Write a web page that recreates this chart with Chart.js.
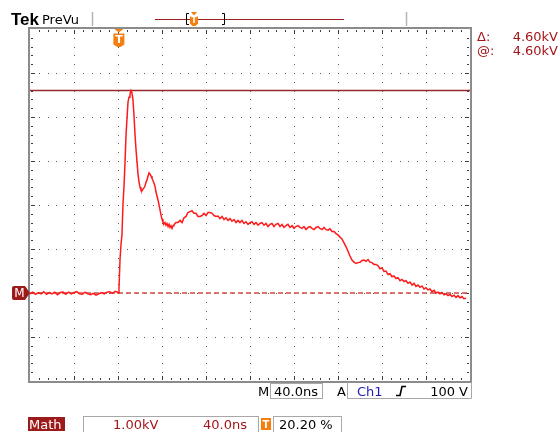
<!DOCTYPE html>
<html>
<head>
<meta charset="utf-8">
<script src="https://cdn.jsdelivr.net/npm/chart.js@4/dist/chart.umd.min.js"></script>
<style>
  html, body { margin: 0; padding: 0; background: #fff; }
  canvas { display: block; }
</style>
</head>
<body>
<canvas id="scope" width="560" height="432"></canvas>
<script>
// Acquired math waveform: time from left edge of screen (ns) and amplitude (kV)
const timeNs = [
  0, 2.5, 5, 7.5, 10, 12.5, 15, 17.5, 20, 22.5, 25, 27.5, 30, 32.5, 35, 37.5, 40, 42.5, 45, 47.5,
  50, 52.5, 55, 57.5, 60, 62.5, 65, 67.5, 70, 72.5, 75, 77.5, 79.5,
  80.0, 80.9, 81.8, 82.7, 83.6, 84.5, 85.5, 86.4, 87.3, 88.2, 89.1, 90.0, 90.9, 91.8, 92.7, 93.6,
  94.5, 95.5, 96.4, 97.3, 98.2, 99.1, 100.0, 100.9, 101.8, 102.7, 103.6, 104.5, 105.5, 106.4,
  107.3, 108.2, 109.1, 110.0, 110.9, 111.8, 112.7, 113.6, 114.5, 115.5, 116.4, 117.3, 118.2,
  119.1, 120.0, 120.9, 121.8, 122.7, 123.6, 124.5, 125.5, 126.4, 127.3, 128.2, 129.1, 130.0,
  130.9, 132.7, 134.5, 136.4, 138.2, 140.0, 141.8, 143.6, 145.5, 147.3, 149.1, 150.9, 152.7,
  154.5, 156.4, 158.2, 160.0, 161.8, 163.6, 165.5, 167.3, 169.1, 170.9, 172.7, 174.5, 176.4,
  178.2, 180.0, 181.8, 183.6, 185.5, 187.3, 189.1, 190.9, 192.7, 194.5, 196.4, 198.2, 200.0,
  201.8, 203.6, 205.5, 207.3, 209.1, 210.9, 212.7, 214.5, 216.4, 218.2, 220.0, 221.8, 223.6,
  225.5, 227.3, 229.1, 230.9, 232.7, 234.5, 236.4, 238.2, 240.0, 241.8, 243.6, 245.5, 247.3,
  249.1, 250.9, 252.7, 254.5, 256.4, 258.2, 260.0, 261.8, 263.6, 265.5, 267.3, 269.1, 270.9,
  272.7, 274.5, 276.4, 278.2, 280.0, 281.8, 283.6, 285.5, 287.3, 289.1, 290.9, 292.7, 294.5,
  296.4, 298.2, 300.0, 301.8, 303.6, 305.5, 307.3, 309.1, 310.9, 312.7, 314.5, 316.4, 318.2,
  320.0, 321.8, 323.6, 325.5, 327.3, 329.1, 330.9, 332.7, 334.5, 336.4, 338.2, 340.0, 341.8,
  343.6, 345.5, 347.3, 349.1, 350.9, 352.7, 354.5, 356.4, 358.2, 360.0, 361.8, 363.6, 365.5,
  367.3, 369.1, 370.9, 372.7, 374.5, 376.4, 378.2, 380.0, 381.8, 383.6, 385.5, 387.3, 389.1,
  390.9, 392.7, 394.5, 396.4
];
const voltKV = [
  -0.02, 0.02, -0.03, 0.01, -0.02, 0.03, -0.03, 0.01, -0.02, 0.02, -0.04, 0.01, 0.02, -0.03, 0.02, -0.02, 0.01, 0.03, -0.02, -0.03,
  0.02, -0.02, -0.04, -0.01, -0.05, -0.02, 0.01, -0.02, 0.02, 0.03, -0.01, 0.04, 0.02,
  0.00, 0.09, 0.75, 1.09, 1.32, 2.00, 2.45, 2.98, 3.59, 3.98, 4.34, 4.45, 4.52, 4.60, 4.55, 4.39,
  4.05, 3.59, 3.25, 2.98, 2.70, 2.52, 2.41, 2.34, 2.32, 2.36, 2.39, 2.43, 2.52, 2.57,
  2.66, 2.73, 2.70, 2.66, 2.61, 2.55, 2.50, 2.43, 2.30, 2.20, 2.11, 2.00, 1.89,
  1.77, 1.68, 1.61, 1.57, 1.60, 1.54, 1.58, 1.51, 1.56, 1.49, 1.53, 1.47, 1.53,
  1.55, 1.60, 1.60, 1.65, 1.60, 1.71, 1.74, 1.83, 1.85, 1.87, 1.81, 1.81, 1.74,
  1.74, 1.76, 1.81, 1.76, 1.83, 1.83, 1.81, 1.76, 1.74, 1.75, 1.69, 1.74, 1.67,
  1.71, 1.65, 1.69, 1.63, 1.67, 1.60, 1.65, 1.60, 1.65, 1.58, 1.62, 1.56, 1.60,
  1.62, 1.56, 1.60, 1.54, 1.58, 1.60, 1.54, 1.58, 1.51, 1.56, 1.58, 1.51, 1.56,
  1.58, 1.51, 1.56, 1.49, 1.53, 1.56, 1.49, 1.53, 1.47, 1.51, 1.53, 1.49, 1.47,
  1.51, 1.44, 1.49, 1.51, 1.47, 1.44, 1.49, 1.51, 1.47, 1.44, 1.49, 1.44, 1.43,
  1.46, 1.40, 1.40, 1.35, 1.32, 1.27, 1.23, 1.14, 1.05, 0.95, 0.84, 0.75, 0.70,
  0.67, 0.69, 0.70, 0.74, 0.75, 0.72, 0.76, 0.70, 0.69, 0.65, 0.65, 0.62, 0.55,
  0.57, 0.49, 0.50, 0.42, 0.44, 0.37, 0.39, 0.33, 0.35, 0.28, 0.31, 0.26, 0.28,
  0.22, 0.25, 0.18, 0.22, 0.15, 0.18, 0.13, 0.16, 0.09, 0.12, 0.07, 0.09, 0.03,
  0.06, 0.00, 0.02, -0.02, 0.01, -0.04, -0.02, -0.06, -0.03, -0.08, -0.05, -0.10, -0.06,
  -0.11, -0.08, -0.13, -0.12
];

// Screen settings
const timeSpanNs = 400;          // 10 divisions x 40 ns
const voltRangeKV = [-2, 6];     // 8 divisions x 1 kV, ground two divisions above bottom
const groundKV = 0;
const cursorKV = 4.60;           // horizontal bar cursor
const triggerPct = 20.20;        // trigger position on the record, percent

// Readout texts
const cursorDelta = cursorKV.toFixed(2) + 'kV';
const cursorAt = cursorKV.toFixed(2) + 'kV';
const mathVScale = '1.00kV';
const mathHScale = '40.0ns';
const mainTimebase = '40.0ns';
const trigSource = 'Ch1';
const trigLevel = '100 V';

const DARK_RED = '#a3161a';
const ORANGE = '#f57e0f';
const FONT = '"DejaVu Sans", sans-serif';

function triggerTag(ctx, cx, top, w, h, fs) {
  // orange trigger marker: small notch on top, box with a point below
  const l = cx - w / 2, r = cx + w / 2;
  ctx.fillStyle = ORANGE;
  ctx.beginPath();
  ctx.moveTo(l + 1, top); ctx.lineTo(r - 1, top); ctx.lineTo(cx, top + 3.5); ctx.closePath();
  ctx.fill();
  ctx.beginPath();
  ctx.moveTo(l, top + 4.5); ctx.lineTo(r, top + 4.5); ctx.lineTo(r, top + h - 2.5);
  ctx.lineTo(cx + 1.5, top + h); ctx.lineTo(cx - 1.5, top + h); ctx.lineTo(l, top + h - 2.5);
  ctx.closePath(); ctx.fill();
  ctx.fillStyle = '#fff';
  ctx.font = 'bold ' + fs + 'px ' + FONT;
  ctx.textAlign = 'center'; ctx.textBaseline = 'middle';
  ctx.fillText('T', cx, top + 4.5 + (h - 4.5) / 2);
}

const scopeScreen = {
  id: 'scopeScreen',
  beforeDraw(chart) {
    const ctx = chart.ctx;
    ctx.save();
    ctx.fillStyle = '#fff';
    ctx.fillRect(0, 0, chart.width, chart.height);
    ctx.restore();
  },
  beforeDatasetsDraw(chart) {
    const ctx = chart.ctx;
    const xs = chart.scales.x, ys = chart.scales.y;
    const a = chart.chartArea;
    ctx.save();
    // dotted graticule: a dot at every minor step along each major line
    ctx.fillStyle = '#5c5c5c';
    for (let i = 1; i < 10; i++) {
      const px = Math.round(xs.getPixelForValue(i * 40));
      for (let j = 1; j < 40; j++) {
        const py = Math.round(ys.getPixelForValue(voltRangeKV[0] + j * 0.2));
        ctx.fillRect(px, py, 1, 1);
      }
    }
    for (let k = 1; k < 8; k++) {
      const py = Math.round(ys.getPixelForValue(voltRangeKV[0] + k));
      for (let j = 1; j < 50; j++) {
        const px = Math.round(xs.getPixelForValue(j * 8));
        ctx.fillRect(px, py, 1, 1);
      }
    }
    // frame
    ctx.strokeStyle = '#8c8c8c';
    ctx.lineWidth = 2;
    ctx.strokeRect(a.left - 1, a.top - 1, a.right - a.left + 2, a.bottom - a.top + 2);
    // ticks along the frame
    ctx.fillStyle = '#3c3c3c';
    for (let j = 1; j < 50; j++) {
      const px = Math.round(xs.getPixelForValue(j * 8));
      const len = j % 5 === 0 ? 4 : 2;
      ctx.fillRect(px, a.top + 1, 1, len);
      ctx.fillRect(px, a.bottom - 1 - len, 1, len);
    }
    for (let j = 1; j < 40; j++) {
      const py = Math.round(ys.getPixelForValue(voltRangeKV[0] + j * 0.2));
      const len = j % 5 === 0 ? 4 : 2;
      ctx.fillRect(a.left + 1, py, len, 1);
      ctx.fillRect(a.right - 1 - len, py, len, 1);
    }
    ctx.restore();
  },
  afterDraw(chart) {
    const ctx = chart.ctx;
    const xs = chart.scales.x, ys = chart.scales.y;
    const a = chart.chartArea;
    ctx.save();

    // header
    ctx.fillStyle = '#000';
    ctx.textAlign = 'left'; ctx.textBaseline = 'alphabetic';
    ctx.font = 'bold 17px "Liberation Sans", sans-serif';
    ctx.fillText('Tek', 11, 25);
    ctx.font = '13px ' + FONT;
    ctx.fillText('PreVu', 42, 24);
    ctx.strokeStyle = '#b4b4b4'; ctx.lineWidth = 1.5;
    ctx.beginPath(); ctx.moveTo(92.5, 12); ctx.lineTo(92.5, 26); ctx.stroke();
    ctx.beginPath(); ctx.moveTo(406.5, 12); ctx.lineTo(406.5, 26); ctx.stroke();

    // record overview bar
    ctx.strokeStyle = '#9a1e1e'; ctx.lineWidth = 1.2;
    ctx.beginPath(); ctx.moveTo(155, 19.5); ctx.lineTo(344, 19.5); ctx.stroke();
    ctx.strokeStyle = '#000'; ctx.lineWidth = 1;
    ctx.beginPath();
    ctx.moveTo(189, 13.5); ctx.lineTo(186.5, 13.5); ctx.lineTo(186.5, 24.5); ctx.lineTo(189, 24.5);
    ctx.moveTo(222, 13.5); ctx.lineTo(224.5, 13.5); ctx.lineTo(224.5, 24.5); ctx.lineTo(222, 24.5);
    ctx.stroke();
    triggerTag(ctx, 194, 12, 8, 14, 8);

    // trigger position marker at top of graticule
    const trigX = xs.getPixelForValue(timeSpanNs * triggerPct / 100);
    triggerTag(ctx, trigX, a.top, 11, 18, 11);

    // ground reference marker on the left
    const gy = Math.round(ys.getPixelForValue(groundKV));
    ctx.fillStyle = '#9c1a1a';
    ctx.beginPath();
    ctx.moveTo(14, gy - 7); ctx.lineTo(25, gy - 7); ctx.lineTo(30, gy);
    ctx.lineTo(25, gy + 7); ctx.lineTo(14, gy + 7);
    ctx.quadraticCurveTo(12, gy + 7, 12, gy + 5); ctx.lineTo(12, gy - 5);
    ctx.quadraticCurveTo(12, gy - 7, 14, gy - 7);
    ctx.closePath(); ctx.fill();
    ctx.fillStyle = '#fff';
    ctx.font = '12px ' + FONT;
    ctx.textAlign = 'center'; ctx.textBaseline = 'middle';
    ctx.fillText('M', 19.5, gy + 0.5);

    // cursor readouts
    ctx.fillStyle = DARK_RED;
    ctx.font = '13px ' + FONT;
    ctx.textBaseline = 'alphabetic';
    ctx.textAlign = 'left';
    ctx.fillText('\u0394:', 477, 41);
    ctx.fillText('@:', 477, 55);
    ctx.textAlign = 'right';
    ctx.fillText(cursorDelta, 558, 41);
    ctx.fillText(cursorAt, 558, 55);

    // status line under the graticule
    ctx.strokeStyle = '#a8a8a8'; ctx.lineWidth = 1;
    ctx.strokeRect(270.5, 383.5, 52, 15);
    ctx.beginPath();
    ctx.moveTo(347.5, 382); ctx.lineTo(347.5, 398.5); ctx.lineTo(471.5, 398.5); ctx.lineTo(471.5, 382);
    ctx.stroke();
    ctx.fillStyle = '#000';
    ctx.textAlign = 'left';
    ctx.fillText('M', 258, 396);
    ctx.fillText(mainTimebase, 274, 396);
    ctx.fillText('A', 337, 396);
    ctx.fillStyle = '#1c1cb4';
    ctx.fillText(trigSource, 357, 396);
    ctx.strokeStyle = '#000'; ctx.lineWidth = 1.6;
    ctx.beginPath();
    ctx.moveTo(396, 395.5); ctx.lineTo(400, 395.5); ctx.lineTo(402, 386.5); ctx.lineTo(406, 386.5);
    ctx.stroke();
    ctx.fillStyle = '#000';
    ctx.textAlign = 'right';
    ctx.fillText(trigLevel, 468, 396);

    // math channel readout
    ctx.fillStyle = '#9c1a1a';
    ctx.fillRect(28, 417, 37, 14);
    ctx.fillStyle = '#fff';
    ctx.textAlign = 'left';
    ctx.fillText('Math', 29, 428.5);
    ctx.strokeStyle = '#a8a8a8'; ctx.lineWidth = 1;
    ctx.strokeRect(83.5, 416.5, 175, 16);
    ctx.strokeRect(273.5, 416.5, 68, 16);
    ctx.fillStyle = DARK_RED;
    ctx.fillText(mathVScale, 113, 428.5);
    ctx.fillText(mathHScale, 203, 428.5);
    ctx.fillStyle = ORANGE;
    ctx.fillRect(261, 418, 10, 12);
    ctx.fillStyle = '#fff';
    ctx.font = 'bold 10px ' + FONT;
    ctx.textAlign = 'center';
    ctx.fillText('T', 266, 428);
    ctx.fillStyle = '#000';
    ctx.font = '13px ' + FONT;
    ctx.textAlign = 'left';
    ctx.fillText(triggerPct.toFixed(2) + ' %', 279, 428.5);

    ctx.restore();
  }
};

new Chart(document.getElementById('scope').getContext('2d'), {
  type: 'line',
  data: {
    datasets: [
      {
        label: 'Math',
        data: timeNs.map((t, i) => ({ x: t, y: voltKV[i] })),
        borderColor: '#ff1a1a',
        borderWidth: 1.5,
        pointRadius: 0,
        order: 0
      },
      {
        label: 'Ground',
        data: [{ x: 0, y: groundKV }, { x: timeSpanNs, y: groundKV }],
        borderColor: '#cc4a46',
        borderWidth: 1.5,
        borderDash: [5, 3],
        pointRadius: 0,
        order: 1
      },
      {
        label: 'Cursor',
        data: [{ x: 0, y: cursorKV }, { x: timeSpanNs, y: cursorKV }],
        borderColor: '#9a2828',
        borderWidth: 1.5,
        pointRadius: 0,
        order: 2
      }
    ]
  },
  options: {
    responsive: false,
    animation: false,
    devicePixelRatio: 1,
    layout: { padding: { left: 30, right: 90, top: 29, bottom: 51 } },
    elements: { line: { tension: 0 } },
    plugins: { legend: { display: false }, tooltip: { enabled: false } },
    scales: {
      x: { type: 'linear', min: 0, max: timeSpanNs, display: false },
      y: { type: 'linear', min: voltRangeKV[0], max: voltRangeKV[1], display: false }
    }
  },
  plugins: [scopeScreen]
});
</script>
</body>
</html>
